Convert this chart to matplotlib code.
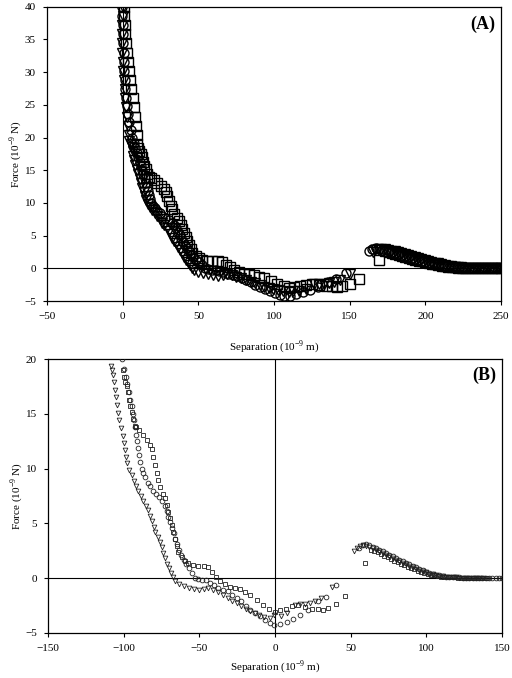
import numpy as np
import matplotlib
matplotlib.use('Agg')
from matplotlib import pyplot as plt

plt.rcParams['font.family'] = 'Liberation Serif'
plt.rcParams['mathtext.fontset'] = 'custom'
plt.rcParams['mathtext.rm'] = 'Liberation Serif'

# separations as plotted in panel (B), forces in 10^-9 N
circ_x = [-107.4, -107.2, -107.0, -106.8, -106.6, -106.4, -106.2, -105.9, -105.6, -105.2, -104.8, -104.3,
          -103.6, -102.8, -101.8, -100.8, -99.6, -98.8, -97.8, -96.6, -95.6, -94.8, -94.0, -93.3, -92.5,
          -91.8, -91.1, -90.5, -89.7, -89.0, -88.2, -87.0, -85.6, -84.0, -82.4, -80.8, -78.8, -76.6, -74.6,
          -73.0, -71.6, -70.4, -69.3, -68.2, -67.0, -65.8, -64.6, -63.4, -62.0, -60.4, -58.6, -56.6, -54.6,
          -52.6, -50.6, -48.2, -45.6, -43.2, -40.4, -37.4, -34.4, -31.4, -28.4, -25.4, -22.4, -19.4, -16.5,
          -13.2, -9.9, -6.6, -3.3, -0.4, 3.3, 7.7, 12.1, 16.5, 22.0, 28.7, 33.7, 40.3,
          55.7, 57.9, 60.1, 62.3, 64.5, 66.7, 68.9, 71.1, 73.3, 75.5, 77.7, 79.9, 82.1, 84.3, 86.5, 88.7,
          90.9, 93.1, 95.3, 97.5, 99.7, 101.9, 104.1, 106.3, 108.5, 110.7, 112.9, 115.1, 117.3, 119.5,
          121.7, 123.9, 126.1, 128.3, 130.5, 132.7, 134.9, 137.1, 139.3, 141.5, 143.7, 145.9, 148.1, 150.0]
circ_y = [40.0, 38.6, 37.2, 35.8, 34.4, 33.0, 31.6, 30.2, 28.8, 27.4, 26.0, 24.8,
          23.6, 22.4, 21.2, 20.0, 19.1, 18.4, 17.7, 17.0, 16.3, 15.7, 15.0, 14.4, 13.8,
          13.1, 12.5, 11.9, 11.2, 10.6, 10.0, 9.6, 9.2, 8.7, 8.4, 8.0, 7.7, 7.4, 7.0,
          6.6, 6.1, 5.6, 5.1, 4.6, 4.1, 3.6, 3.1, 2.6, 2.1, 1.7, 1.3, 0.9, 0.45,
          0.05, -0.12, -0.18, -0.2, -0.45, -0.62, -0.85, -1.05, -1.2, -1.5, -1.8, -2.1, -2.5, -2.86,
          -3.16, -3.47, -3.77, -4.08, -4.29, -4.2, -3.99, -3.68, -3.38, -2.9, -2.1, -1.7, -0.64,
          2.71, 3.0, 3.1, 3.0, 2.88, 2.75, 2.6, 2.45, 2.3, 2.15, 2.0, 1.85, 1.7, 1.55, 1.4, 1.25,
          1.12, 0.98, 0.85, 0.72, 0.6, 0.5, 0.4, 0.32, 0.25, 0.2, 0.15, 0.12, 0.1, 0.08,
          0.07, 0.06, 0.06, 0.05, 0.05, 0.05, 0.05, 0.05, 0.05, 0.05, 0.05, 0.05, 0.05, 0.05]

tri_x = [-112.6, -112.9, -113.2, -113.4, -113.4, -113.2, -112.9, -112.6, -112.2, -111.7, -111.2, -110.7,
         -110.2, -109.6, -109.0, -108.5, -107.4, -106.8, -106.3, -105.9, -105.2, -104.6, -103.8, -102.8,
         -101.6, -100.7, -100.0, -99.2, -98.5, -97.6, -96.3, -94.7, -93.4, -91.9, -90.3, -88.6, -87.0,
         -85.5, -84.0, -82.6, -81.3, -80.2, -79.0, -77.6, -76.2, -75.0, -73.8, -72.6, -71.2, -70.0, -68.8,
         -67.5, -66.0, -63.2, -60.0, -56.8, -53.4, -50.0, -46.8, -44.0, -41.0, -37.8, -34.6, -31.4, -28.4,
         -25.4, -22.4, -19.4, -16.4, -13.4, -10.4, -7.2, -3.3, -0.6, 3.8, 8.1, 13.2, 16.5, 19.8, 23.1,
         26.5, 30.4, 37.5,
         52.2, 54.0, 56.0, 58.0, 60.2, 62.4, 64.6, 66.8, 69.0, 71.2, 73.4, 75.6, 77.8, 80.0, 82.2, 84.4,
         86.6, 88.8, 91.0, 93.2, 95.4, 97.6, 99.8, 102.0, 104.2, 106.4, 108.6, 110.8, 113.0, 115.2, 117.4,
         119.6, 121.8, 124.0, 126.2, 128.4, 130.6, 132.8, 135.0, 137.2]
tri_y = [40.0, 38.6, 37.2, 35.8, 34.4, 33.0, 31.6, 30.2, 28.8, 27.4, 26.0, 24.6,
         23.2, 21.8, 20.4, 19.4, 19.0, 18.5, 17.9, 17.2, 16.5, 15.8, 15.1, 14.4,
         13.7, 13.0, 12.3, 11.7, 11.1, 10.5, 9.9, 9.4, 8.9, 8.4, 8.0, 7.5, 7.0,
         6.6, 6.2, 5.7, 5.2, 4.7, 4.2, 3.8, 3.3, 2.8, 2.3, 1.8, 1.3, 0.9, 0.5,
         0.1, -0.3, -0.5, -0.75, -0.9, -1.0, -1.1, -1.0, -0.85, -1.05, -1.25, -1.5, -1.8, -2.05,
         -2.3, -2.55, -2.8, -3.0, -3.2, -3.35, -3.5, -3.6, -3.4, -3.45, -3.15, -2.45, -2.4, -2.35, -2.3,
         -2.1, -1.85, -0.8,
         2.5, 2.75, 2.95, 3.0, 2.95, 2.85, 2.72, 2.6, 2.45, 2.3, 2.15, 2.0, 1.85, 1.7, 1.55, 1.4,
         1.27, 1.13, 1.0, 0.87, 0.75, 0.63, 0.52, 0.42, 0.34, 0.27, 0.21, 0.16, 0.12, 0.1, 0.08,
         0.07, 0.06, 0.05, 0.05, 0.05, 0.05, 0.05, 0.05, 0.05]

sq_x = [-109.0, -108.8, -108.5, -108.2, -107.8, -107.2, -106.6, -105.9, -105.1, -104.3, -103.4, -102.4,
        -101.6, -101.0, -100.5, -100.2, -99.8, -99.0, -98.0, -97.4, -96.6, -95.8, -94.7, -93.6, -92.6,
        -91.6, -89.6, -87.4, -84.8, -82.6, -81.5, -80.4, -79.3, -78.2, -77.5, -76.0, -74.2, -72.7, -71.6,
        -70.5, -69.4, -68.3, -67.2, -66.1, -65.0, -63.9, -61.7, -59.5, -57.3, -54.0, -50.7, -46.9, -44.1,
        -41.8, -39.0, -36.3, -33.0, -29.7, -26.4, -23.1, -19.8, -16.5, -12.1, -8.2, -3.7, 0.0, 3.3, 7.3,
        11.0, 15.4, 19.8, 24.2, 28.6, 31.9, 35.2, 40.3, 46.3,
        59.5, 63.5, 65.7, 67.9, 70.1, 72.3, 74.5, 76.7, 78.9, 81.1, 83.3, 85.5, 87.7, 89.9, 92.1, 94.3,
        96.5, 98.7, 100.9, 103.1, 105.3, 107.5, 109.7, 111.9, 114.1, 116.3, 118.5, 120.7, 122.9, 125.1,
        127.3, 129.5, 131.7, 133.9, 136.1, 138.3, 140.0]
sq_y = [40.0, 38.6, 37.2, 35.8, 34.4, 33.0, 31.6, 30.2, 28.8, 27.4, 26.0, 24.6,
        23.2, 21.8, 20.4, 19.0, 18.4, 17.9, 17.5, 17.0, 16.3, 15.7, 15.2, 14.5, 13.9,
        13.8, 13.5, 13.1, 12.6, 12.15, 11.75, 11.08, 10.3, 9.6, 9.0, 8.3, 7.7, 7.3, 6.67,
        6.06, 5.45, 4.84, 4.23, 3.62, 2.92, 2.4, 1.95, 1.55, 1.34, 1.19, 1.13, 1.13, 0.98,
        0.58, 0.13, -0.24, -0.55, -0.79, -0.94, -1.03, -1.25, -1.55, -1.95, -2.46, -2.77, -3.07, -2.92, -2.77,
        -2.56, -2.46, -2.62, -2.77, -2.77, -2.86, -2.68, -2.37, -1.64,
        1.34, 2.6, 2.5, 2.35, 2.2, 2.05, 1.9, 1.75, 1.6, 1.46, 1.32, 1.18, 1.05, 0.93, 0.81, 0.7,
        0.6, 0.5, 0.41, 0.33, 0.26, 0.2, 0.15, 0.12, 0.1, 0.08, 0.07, 0.06, 0.05, 0.05,
        0.05, 0.05, 0.05, 0.05, 0.05, 0.05, 0.05]

# panel (A) uses a different zero of separation for each run
shift_a = {'circ': 107.0, 'tri': 113.0, 'sq': 110.0}

series = [('sq', sq_x, sq_y, 's'), ('circ', circ_x, circ_y, 'o'), ('tri', tri_x, tri_y, 'v')]

fig = plt.figure(figsize=(5.12, 6.78), dpi=100)
axA = fig.add_axes([0.0918, 0.556, 0.8867, 0.434])
axB = fig.add_axes([0.0938, 0.0664, 0.8867, 0.4041])

ylab = r'Force (10$^{\mathregular{-9}}$ N)'
xlab = r'Separation (10$^{\mathregular{-9}}$ m)'

def style(ax, xlim, ylim, xt, yt, tag, xpad):
    ax.set_xlim(*xlim)
    ax.set_ylim(*ylim)
    ax.set_xticks(xt)
    ax.set_yticks(yt)
    ax.axhline(0, color='black', lw=0.8, zorder=1)
    ax.axvline(0, color='black', lw=0.8, zorder=1)
    ax.tick_params(direction='out', length=3, width=0.8, labelsize=8, pad=5)
    for s in ax.spines.values():
        s.set_linewidth(0.9)
    ax.set_ylabel(ylab, fontsize=8, labelpad=0)
    ax.set_xlabel(xlab, fontsize=8, labelpad=xpad)
    ax.text(0.987, 0.94, tag, transform=ax.transAxes, ha='right', va='center',
            fontsize=13, fontweight='bold')

for key, xs, ys, m in series:
    xa = np.array(xs) + shift_a[key]
    axA.plot(xa, ys, ls='none', marker=m, ms=6.5, mfc='none', mec='black', mew=1.0, zorder=3)
    axB.plot(xs, ys, ls='none', marker=m, ms=3.4, mfc='none', mec='#222222', mew=0.6, zorder=3)

style(axA, (-50, 250), (-5, 40), range(-50, 251, 50), range(-5, 41, 5), '(A)', 12)
style(axB, (-150, 150), (-5, 20), range(-150, 151, 50), range(-5, 21, 5), '(B)', 4)

fig.savefig('out.png', dpi=100)
